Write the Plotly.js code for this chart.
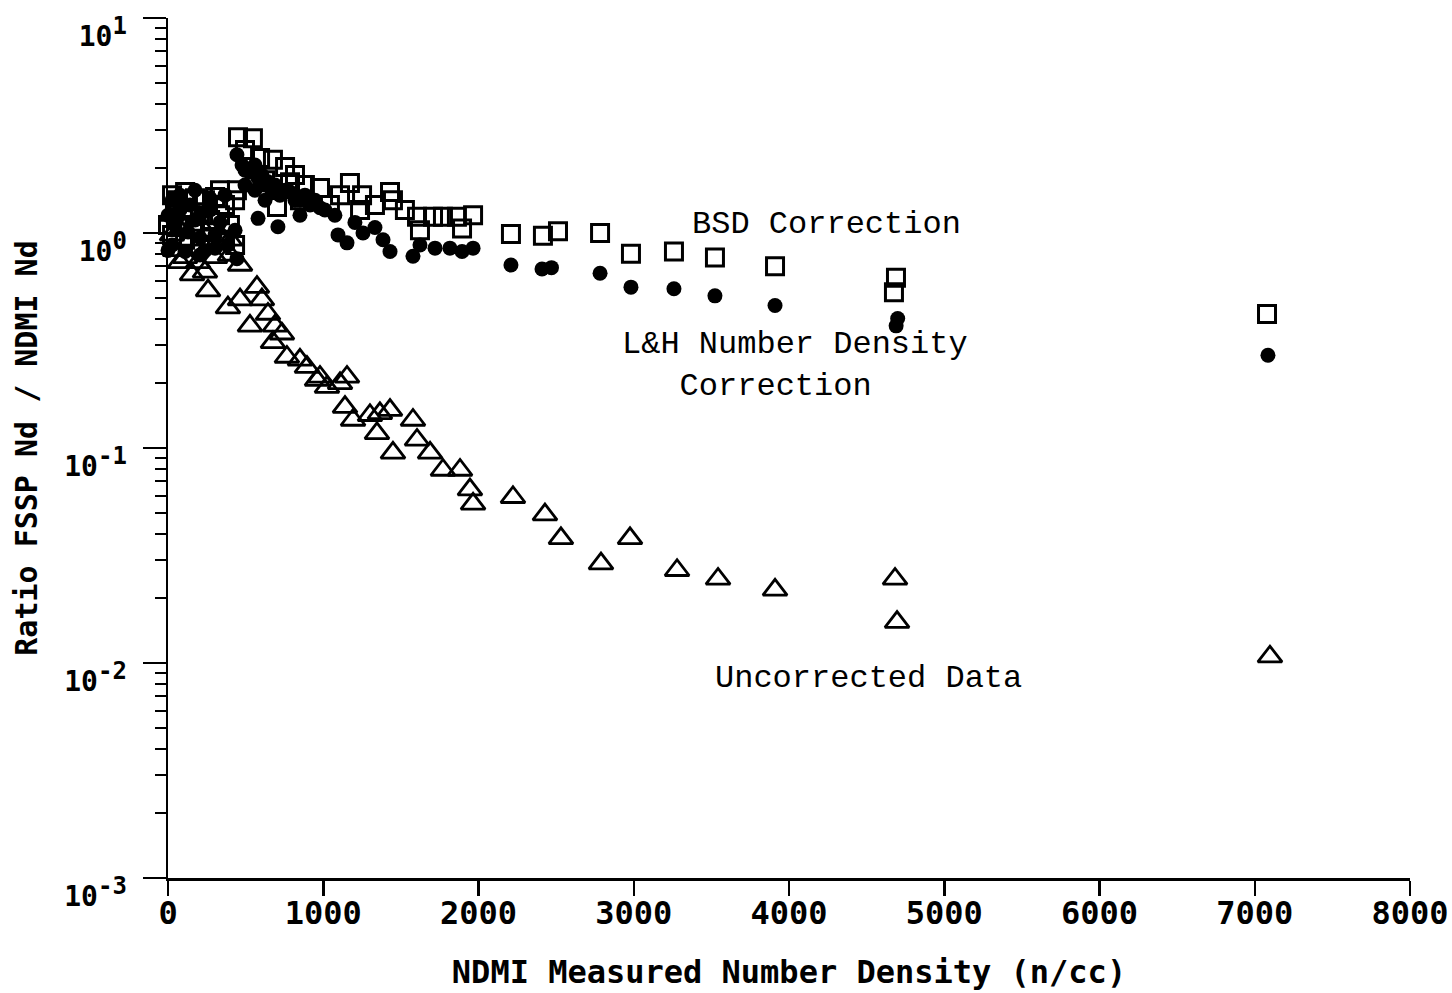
<!DOCTYPE html>
<html>
<head>
<meta charset="utf-8">
<script src="https://cdn.plot.ly/plotly-3.0.1.min.js"></script>
<style>html,body{margin:0;padding:0;background:#fff;}#chart{width:1452px;height:993px;}</style>
</head>
<body>
<div id="chart"></div>
<script>
// BSD Correction (open squares)
const bsdX = [26,64,110,174,238,303,367,45,142,206,271,335,399,77,174,271,367,432,26,110,335,432,0,206,
  451,547,496,593,676,754,818,444,702,786,882,979,1108,1172,1250,1333,1430,1449,1526,1604,1707,1771,1861,1965,1894,1623,850,625,1043,1237,
  2209,2415,2512,2783,2982,3259,3523,3910,4689,4676,7079];
const bsdY = [1.50,1.42,1.55,1.45,1.42,1.47,1.35,1.28,1.21,1.25,1.15,1.21,1.09,1.09,1.06,1.01,0.93,0.88,0.98,0.93,1.58,1.42,1.09,0.88,
  2.79,2.76,2.43,2.23,2.19,2.03,1.86,1.58,1.32,1.72,1.67,1.62,1.50,1.71,1.50,1.35,1.55,1.42,1.28,1.19,1.19,1.19,1.19,1.21,1.05,1.03,1.42,1.76,1.35,1.28,
  0.99,0.97,1.02,1.00,0.80,0.82,0.77,0.70,0.62,0.53,0.42];

// L&H Number Density Correction (filled dots)
const lhX = [26,77,142,206,271,335,45,129,206,303,386,26,110,206,303,444,174,271,0,77,174,367,432,0,238,
  444,477,528,580,625,670,721,786,850,915,580,708,979,1075,1095,1153,1204,1256,1385,1333,1430,1578,1623,1720,1816,1894,1965,
  496,560,605,644,560,689,754,818,882,947,1011,850,625,496,
  2209,2409,2470,2783,2982,3259,3523,3910,4700,4690,7085];
const lhY = [1.42,1.28,1.35,1.21,1.28,1.12,1.09,1.01,0.95,0.98,0.88,0.88,0.82,0.79,0.85,0.76,1.15,1.45,1.21,1.50,1.58,1.50,1.03,0.83,0.83,
  2.31,2.07,1.92,1.80,1.67,1.58,1.50,1.55,1.42,1.35,1.17,1.07,1.31,1.21,0.98,0.90,1.12,1.00,0.93,1.06,0.82,0.78,0.88,0.85,0.85,0.82,0.85,
  1.96,2.07,1.86,1.73,1.58,1.67,1.58,1.42,1.50,1.42,1.28,1.21,1.42,1.67,
  0.71,0.68,0.69,0.65,0.56,0.55,0.51,0.46,0.40,0.37,0.27];

// Uncorrected Data (open triangles)
const rawX = [26,77,142,206,271,335,45,110,193,303,399,464,26,77,399,
  155,258,238,386,464,528,573,605,644,689,676,734,766,850,895,960,979,1024,1108,1153,1140,1192,1301,1346,1365,1430,1449,1578,1604,1688,1771,1881,1945,1965,
  2222,2428,2531,2789,2976,3279,3543,3910,4683,4696,7098];
const rawY = [1.21,1.03,0.93,1.09,0.88,0.98,0.83,0.77,0.73,0.77,0.79,0.71,0.98,0.73,0.93,
  0.64,0.54,0.66,0.45,0.49,0.37,0.56,0.49,0.42,0.37,0.31,0.34,0.265,0.257,0.238,0.207,0.214,0.192,0.20,0.214,0.155,0.135,0.142,0.117,0.145,0.150,0.095,0.135,0.109,0.095,0.079,0.079,0.064,0.055,
  0.059,0.049,0.038,0.029,0.038,0.027,0.0246,0.0219,0.0246,0.0155,0.0107];

const xTickVals = [0,1000,2000,3000,4000,5000,6000,7000,8000];
const yTickVals = [0.001,0.01,0.1,1,10];
const yExponents = ['-3','-2','-1','0','1'];
const yTickText = yExponents.map(e => '10<sup><span style="font-size:24px">' + e + '</span></sup>');
const yMinorVals = [];
[0.001,0.01,0.1,1].forEach(d => { for (let k = 2; k <= 9; k++) yMinorVals.push(d*k); });

const traces = [
  {x: rawX, y: rawY, mode: 'markers', type: 'scatter', name: 'Uncorrected Data', cliponaxis: false,
   marker: {symbol: 'triangle-up-open', size: 21, color: '#000', line: {width: 2.8, color: '#000'}}},
  {x: bsdX, y: bsdY, mode: 'markers', type: 'scatter', name: 'BSD Correction', cliponaxis: false,
   marker: {symbol: 'square-open', size: 17, color: '#000', line: {width: 3, color: '#000'}}},
  {x: lhX, y: lhY, mode: 'markers', type: 'scatter', name: 'L&H Number Density Correction', cliponaxis: false,
   marker: {symbol: 'circle', size: 15, color: '#000', line: {width: 0}}}
];

const annFont = {family: 'Liberation Mono, Courier New, monospace', size: 32, color: '#000'};
const layout = {
  width: 1452, height: 993,
  margin: {l: 168, r: 42, t: 18, b: 115},
  paper_bgcolor: '#fff', plot_bgcolor: '#fff',
  showlegend: false, hovermode: false,
  font: {family: 'DejaVu Sans Mono, monospace', color: '#000'},
  xaxis: {
    range: [0, 8000], tickvals: xTickVals, ticktext: xTickVals.map(String),
    showline: true, linewidth: 2.5, linecolor: '#000', mirror: false,
    ticks: 'outside', ticklen: 15, tickwidth: 2.5, tickcolor: '#000',
    showgrid: false, zeroline: false,
    ticklabelstandoff: -10,
    tickfont: {family: 'DejaVu Sans Mono, monospace', size: 32, weight: 'bold', color: '#000'},
    title: {text: 'NDMI Measured Number Density (n/cc)', standoff: 30,
            font: {family: 'DejaVu Sans Mono, monospace', size: 32, weight: 'bold', color: '#000'}}
  },
  yaxis: {
    type: 'log', range: [-3, 1], tickmode: 'array', tickvals: yTickVals, ticktext: yTickText,
    showline: true, linewidth: 2.5, linecolor: '#000',
    ticks: 'outside', ticklen: 23, tickwidth: 2.5, tickcolor: '#000',
    minor: {tickmode: 'array', tickvals: yMinorVals, ticks: 'outside', ticklen: 11, tickwidth: 2, tickcolor: '#000', showgrid: false},
    showgrid: false, zeroline: false,
    ticklabelshift: 18, ticklabelstandoff: 10,
    tickfont: {family: 'DejaVu Sans Mono, monospace', size: 28, weight: 'bold', color: '#000'},
    title: {text: 'Ratio FSSP Nd / NDMI Nd', standoff: 18,
            font: {family: 'DejaVu Sans Mono, monospace', size: 30, weight: 'bold', color: '#000'}}
  },
  annotations: [
    {xref: 'x', yref: 'y', x: 3362, y: Math.log10(1.09), text: 'BSD Correction', showarrow: false, xanchor: 'left', yanchor: 'middle', font: annFont},
    {xref: 'x', yref: 'y', x: 2911, y: Math.log10(0.243), text: 'L&amp;H Number Density<br>\u00a0\u00a0\u00a0Correction', showarrow: false, align: 'left', xanchor: 'left', yanchor: 'middle', font: annFont},
    {xref: 'x', yref: 'y', x: 3510, y: Math.log10(0.0085), text: 'Uncorrected Data', showarrow: false, xanchor: 'left', yanchor: 'middle', font: annFont}
  ]
};

Plotly.newPlot('chart', traces, layout, {staticPlot: true, displayModeBar: false});
</script>
</body>
</html>
